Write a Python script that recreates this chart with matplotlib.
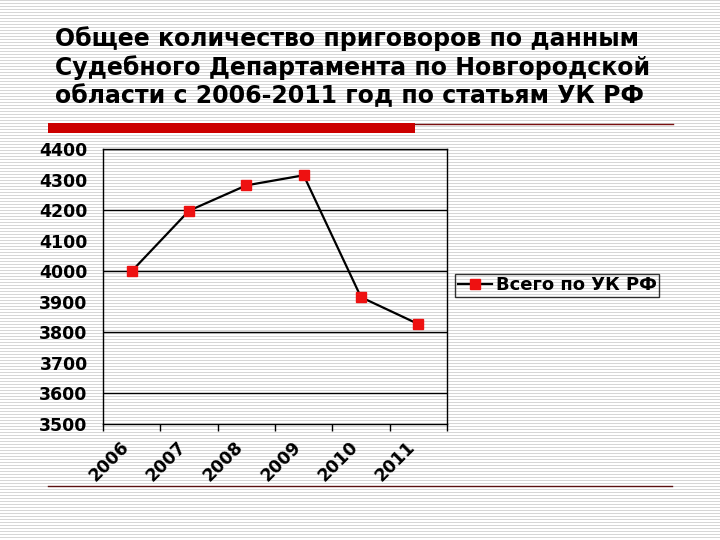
import numpy as np
import matplotlib
matplotlib.use('Agg')
import matplotlib.pyplot as plt
from matplotlib.patches import Rectangle
from matplotlib.lines import Line2D
from matplotlib.transforms import ScaledTranslation

# data
years = ['2006', '2007', '2008', '2009', '2010', '2011']
totals = [4000, 4198, 4281, 4314, 3915, 3827]
series_name = 'Всего по УК РФ'
title = ('Общее количество приговоров по данным\n'
         'Судебного Департамента по Новгородской\n'
         'области с 2006-2011 год по статьям УК РФ')

W, H = 720, 540


def px(x, y):
    # pixel coords (top-left origin) -> figure fraction
    return x / W, 1 - y / H


def main():
    fig = plt.figure(figsize=(7.2, 5.4), dpi=100, facecolor='white')

    # striped slide background
    bg = np.full((H, W, 3), 255, dtype=np.uint8)
    bg[::3, :, :] = 214
    fig.figimage(bg, xo=0, yo=0, zorder=-10)

    # title
    tx, ty = px(55, 26)
    fig.text(tx, ty, title, ha='left', va='top', fontsize=17,
             fontweight='bold', family='DejaVu Sans', linespacing=1.22)

    # red decoration bar and thin lines
    x0, y0 = px(48, 133)
    x1, y1 = px(415, 123)
    fig.add_artist(Rectangle((x0, y0), x1 - x0, y1 - y0, transform=fig.transFigure,
                             facecolor='#cc0000', edgecolor='none', zorder=2))
    a, b = px(415, 123.5)
    c, d = px(673, 123.5)
    fig.add_artist(Line2D([a, c], [b, d], transform=fig.transFigure,
                          color='#7a1010', lw=1))
    a, b = px(48, 486)
    c, d = px(672, 486)
    fig.add_artist(Line2D([a, c], [b, d], transform=fig.transFigure,
                          color='#5a1010', lw=1))

    # plot area
    left, bottom = px(103, 424)
    right, top = px(447, 149)
    ax = fig.add_axes([left, bottom, right - left, top - bottom])
    ax.set_zorder(5)
    ax.set_facecolor('none')

    # horizontal grid every 200
    for g in [3600, 3800, 4000, 4200, 4400]:
        ax.axhline(g, color='black', lw=1, zorder=1)

    xs = np.arange(len(years))
    ax.plot(xs, totals, color='black', lw=1.6, marker='s', markersize=7.5,
            markerfacecolor='#ee1111', markeredgecolor='#ee1111',
            label=series_name, zorder=3)

    ax.set_xlim(-0.5, len(years) - 0.5)
    ax.set_ylim(3500, 4400)

    # y axis: labels every 100, ticks every 200
    ax.set_yticks(np.arange(3500, 4401, 100))
    ax.set_yticklabels([str(v) for v in range(3500, 4401, 100)])
    ax.set_yticks([3500, 3600, 3800, 4000, 4200, 4400], minor=True)
    ax.tick_params(axis='y', which='major', length=0, pad=11, labelsize=12.5)
    ax.tick_params(axis='y', which='minor', length=5, width=1, direction='out')
    for lab in ax.get_yticklabels():
        lab.set_fontweight('bold')

    # x axis: labels at category centres, ticks at boundaries
    ax.set_xticks(xs)
    ax.set_xticklabels(years, rotation=45, ha='right', va='top',
                       rotation_mode='anchor', fontweight='bold', fontsize=12.5)
    ax.set_xticks(np.arange(-0.5, len(years), 1.0), minor=True)
    ax.tick_params(axis='x', which='major', length=0, pad=10)
    ax.tick_params(axis='x', which='minor', length=5, width=1, direction='out')
    shift = ScaledTranslation(-12 / 100, 0, fig.dpi_scale_trans)
    for lab in ax.get_xticklabels():
        lab.set_transform(lab.get_transform() + shift)

    for s in ax.spines.values():
        s.set_color('black')
        s.set_linewidth(1)

    lx, ly = px(455, 285.5)
    leg = ax.legend(loc='center left', bbox_to_anchor=(lx, ly),
                    bbox_transform=fig.transFigure, frameon=True, fancybox=False,
                    borderaxespad=0, handlelength=1.9, handletextpad=0.2,
                    borderpad=0.15, prop={'weight': 'bold', 'size': 13})
    leg.get_frame().set_facecolor('none')
    leg.get_frame().set_edgecolor('black')
    leg.get_frame().set_linewidth(1)

    fig.savefig('out.png', dpi=100, facecolor='white')


if __name__ == '__main__':
    main()
